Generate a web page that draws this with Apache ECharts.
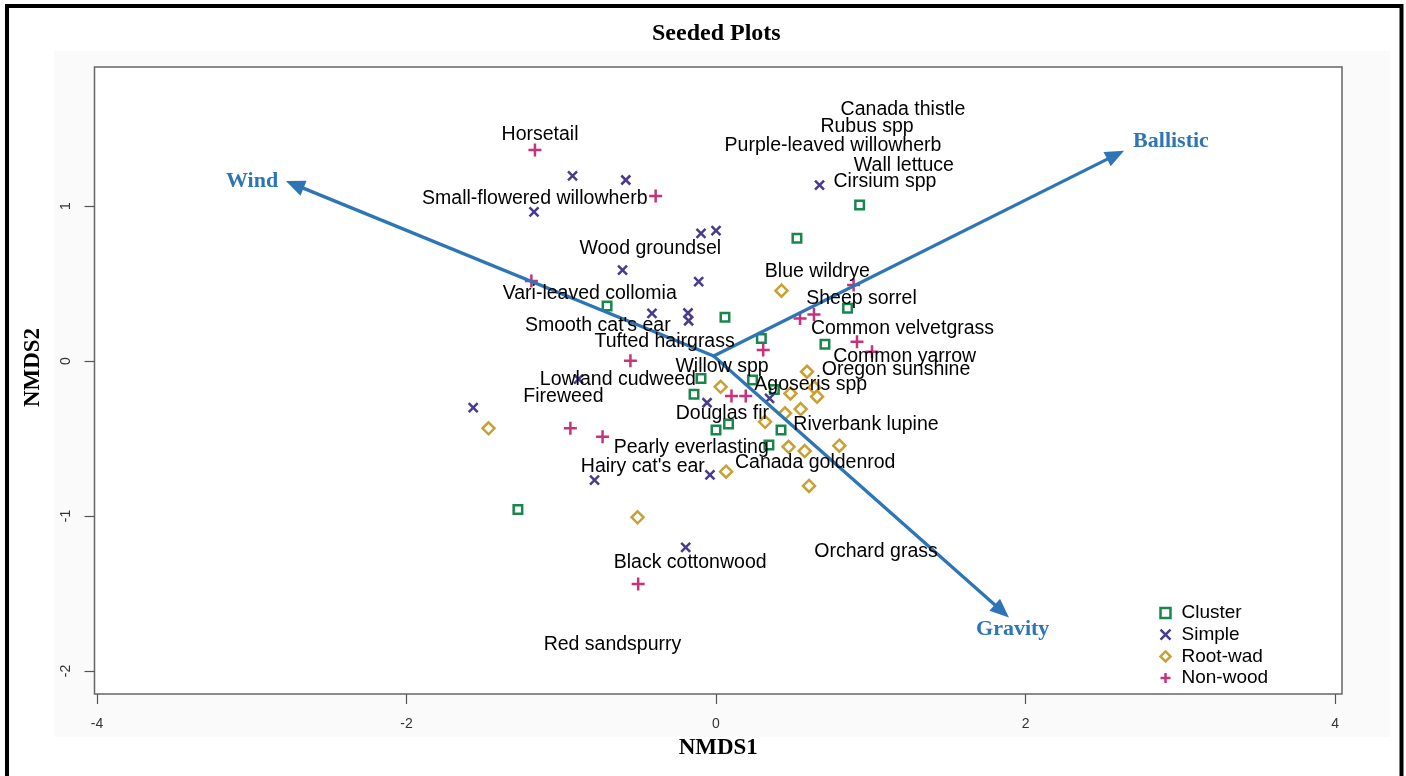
<!DOCTYPE html>
<html>
<head>
<meta charset="utf-8">
<title>Seeded Plots</title>
<script src="https://cdn.jsdelivr.net/npm/echarts@6/dist/echarts.min.js"></script>
<style>
  html, body { margin: 0; padding: 0; background: #fff; }
  #chart { width: 1406px; height: 776px; }
</style>
</head>
<body>
<div id="chart"></div>
<script>
// NMDS site scores by dispersal group
const clusterPts = [
  [0.928, 1.006], [0.523, 0.792], [-0.704, 0.355], [0.058, 0.282], [0.850, 0.340],
  [0.293, 0.146], [0.704, 0.108], [-0.097, -0.112], [-0.142, -0.215], [0.236, -0.123],
  [0.377, -0.183], [0.420, -0.445], [0.000, -0.445], [0.081, -0.406], [0.342, -0.542],
  [-1.280, -0.957]
];
const simplePts = [
  [-0.927, 1.194], [-0.583, 1.168], [-1.176, 0.963], [-0.097, 0.824], [0.000, 0.841],
  [0.669, 1.135], [-0.604, 0.587], [-0.112, 0.512], [-0.414, 0.308], [-0.181, 0.310],
  [-0.177, 0.260], [-0.888, -0.116], [-0.058, -0.269], [0.346, -0.241], [-1.569, -0.301],
  [-0.785, -0.768], [-0.039, -0.735], [-0.196, -1.202]
];
const rootwadPts = [
  [0.423, 0.454], [0.030, -0.166], [0.588, -0.069], [0.481, -0.209], [0.635, -0.170],
  [0.653, -0.230], [0.446, -0.337], [0.547, -0.310], [0.317, -0.392], [0.469, -0.553],
  [0.573, -0.581], [0.797, -0.546], [0.065, -0.714], [0.601, -0.806], [-1.470, -0.434],
  [-0.507, -1.008]
];
const nonwoodPts = [
  [-1.170, 1.361], [-0.390, 1.065], [-1.193, 0.516], [0.889, 0.490], [0.543, 0.275],
  [0.633, 0.301], [0.305, 0.071], [0.911, 0.125], [1.008, 0.060], [-0.553, 0.002],
  [0.100, -0.226], [0.192, -0.226], [-0.941, -0.434], [-0.733, -0.488], [-0.503, -1.439]
];

// Species scores
const speciesNames = [
  'Horsetail', 'Small-flowered willowherb', 'Wood groundsel', 'Vari-leaved collomia',
  "Smooth cat's ear", 'Canada thistle', 'Rubus spp', 'Purple-leaved willowherb',
  'Wall lettuce', 'Cirsium spp', 'Blue wildrye', 'Sheep sorrel', 'Common velvetgrass',
  'Common yarrow', 'Oregon sunshine', 'Tufted hairgrass', 'Willow spp', 'Lowland cudweed',
  'Agoseris spp', 'Fireweed', 'Douglas fir', 'Riverbank lupine', 'Pearly everlasting',
  'Canada goldenrod', "Hairy cat's ear", 'Orchard grass', 'Black cottonwood', 'Red sandspurry'
];
const speciesX = [
  -1.137, -1.171, -0.425, -0.816, -0.764, 1.208, 0.976, 0.756, 1.214, 1.092,
  0.655, 0.940, 1.205, 1.219, 1.163, -0.332, 0.039, -0.634, 0.612, -0.986,
  0.041, 0.969, -0.160, 0.641, -0.473, 1.034, -0.167, -0.669
];
const speciesY = [
  1.458, 1.045, 0.726, 0.435, 0.226, 1.619, 1.510, 1.390, 1.258, 1.158,
  0.577, 0.400, 0.206, 0.026, -0.058, 0.126, -0.039, -0.123, -0.152, -0.232,
  -0.339, -0.413, -0.561, -0.658, -0.684, -1.232, -1.303, -1.832
];

// Dispersal-mode vectors (start point, tips, label anchors)
const vectorNames = ['Wind', 'Ballistic', 'Gravity'];
const vectorOrigin = [-0.015, 0.032];
const vectorX = [-2.779, 2.637, 1.893];
const vectorY = [1.161, 1.357, -1.654];
const vectorLabelX = [-2.998, 2.940, 1.917];
const vectorLabelY = [1.161, 1.419, -1.732];

// Axis ticks
const xTicks = [-4, -2, 0, 2, 4];
const yTicks = [-2, -1, 0, 1];

const groupNames = ['Cluster', 'Simple', 'Root-wad', 'Non-wood'];
const groupColors = ['#17874b', '#4b3b8c', '#c9a031', '#c7337a'];

const SANS = "'Liberation Sans', Arial, Helvetica, sans-serif";
const SERIF = "'Liberation Serif', 'Times New Roman', Times, serif";
const ARROW_BLUE = '#2e75b6';

const symbolPaths = {
  square: 'path://M0,0L10,0L10,10L0,10Z',
  cross: 'path://M0,0L10,10M10,0L0,10',
  diamond: 'path://M5,0L10,5L5,10L0,5Z',
  plus: 'path://M5,0L5,10M0,5L10,5'
};

function groupSeries(name, pts, color, symbol, size) {
  return {
    type: 'scatter',
    name: name,
    data: pts,
    symbol: symbol,
    symbolSize: size,
    silent: true,
    itemStyle: { color: 'none', borderColor: color, borderWidth: 2.5, opacity: 1 },
    z: 3
  };
}

const speciesData = speciesNames.map((n, i) => [speciesX[i], speciesY[i], n]);
const vectorLabelData = vectorNames.map((n, i) => [vectorLabelX[i], vectorLabelY[i], n]);
const vectorData = vectorNames.map((n, i) => [vectorOrigin[0], vectorOrigin[1], vectorX[i], vectorY[i]]);

const chart = echarts.init(document.getElementById('chart'), null, { renderer: 'canvas' });

const option = {
  animation: false,
  backgroundColor: '#ffffff',
  title: {
    text: 'Seeded Plots',
    left: 647,
    top: 17,
    textStyle: { fontFamily: SERIF, fontWeight: 'bold', fontSize: 24, color: '#000' }
  },
  graphic: [
    {
      type: 'rect', z: -10, silent: true,
      shape: { x: 54, y: 51, width: 1336, height: 686 },
      style: { fill: '#fafafa' }
    },
    {
      type: 'rect', z: 100, silent: true,
      shape: { x: 7, y: 6, width: 1394.5, height: 820 },
      style: { fill: 'none', stroke: '#000', lineWidth: 4 }
    }
  ],
  legend: {
    orient: 'vertical',
    left: 1153,
    top: 598,
    itemWidth: 10,
    itemHeight: 10,
    itemGap: 1.7,
    selectedMode: false,
    data: groupNames.map((n, i) => ({
      name: n,
      itemStyle: { color: 'none', borderColor: groupColors[i], borderWidth: 2.5 }
    })),
    textStyle: { fontFamily: SANS, fontSize: 19, color: '#000', lineHeight: 20, padding: [0, 0, 0, 6] }
  },
  grid: {
    left: 94.5, top: 67, right: 1406 - 1342, bottom: 776 - 694,
    show: true, backgroundColor: '#ffffff', borderColor: '#666', borderWidth: 1.5
  },
  xAxis: {
    type: 'value',
    min: -4.016, max: 4.045,
    axisLine: { show: false, onZero: false },
    splitLine: { show: false },
    axisTick: { show: true, length: 10, customValues: xTicks, lineStyle: { color: '#555', width: 1.2 } },
    axisLabel: { customValues: xTicks, margin: 23, fontFamily: SANS, fontSize: 14, color: '#333' },
    name: 'NMDS1',
    nameLocation: 'middle',
    nameGap: 43,
    nameTextStyle: { fontFamily: SERIF, fontWeight: 'bold', fontSize: 23, color: '#000' }
  },
  yAxis: {
    type: 'value',
    min: -2.148, max: 1.897,
    axisLine: { show: false, onZero: false },
    splitLine: { show: false },
    axisTick: { show: true, length: 10, customValues: yTicks, lineStyle: { color: '#555', width: 1.2 } },
    axisLabel: { customValues: yTicks, rotate: 90, margin: 21, fontFamily: SANS, fontSize: 14, color: '#333' },
    name: 'NMDS2',
    nameLocation: 'middle',
    nameRotate: 90,
    nameGap: 50,
    nameTextStyle: { fontFamily: SERIF, fontWeight: 'bold', fontSize: 23, color: '#000', padding: [0, 0, 0, 26] }
  },
  series: [
    groupSeries('Cluster', clusterPts, groupColors[0], symbolPaths.square, 8.5),
    groupSeries('Simple', simplePts, groupColors[1], symbolPaths.cross, 9),
    groupSeries('Root-wad', rootwadPts, groupColors[2], symbolPaths.diamond, 12),
    groupSeries('Non-wood', nonwoodPts, groupColors[3], symbolPaths.plus, 13),
    {
      type: 'custom',
      name: 'vectors',
      silent: true,
      z: 4,
      data: vectorData,
      renderItem: function (params, api) {
        const p0 = api.coord([api.value(0), api.value(1)]);
        const p1 = api.coord([api.value(2), api.value(3)]);
        const dx = p1[0] - p0[0], dy = p1[1] - p0[1];
        const len = Math.sqrt(dx * dx + dy * dy);
        const ux = dx / len, uy = dy / len;
        const headLen = 19, headHalf = 8;
        const bx = p1[0] - ux * headLen, by = p1[1] - uy * headLen;
        return {
          type: 'group',
          children: [
            {
              type: 'line',
              shape: { x1: p0[0], y1: p0[1], x2: bx + ux * 3, y2: by + uy * 3 },
              style: { stroke: ARROW_BLUE, lineWidth: 3.3, lineCap: 'round' }
            },
            {
              type: 'polygon',
              shape: { points: [p1, [bx - uy * headHalf, by + ux * headHalf], [bx + uy * headHalf, by - ux * headHalf]] },
              style: { fill: ARROW_BLUE }
            }
          ]
        };
      }
    },
    {
      type: 'scatter',
      name: 'vector labels',
      silent: true,
      z: 5,
      data: vectorLabelData,
      symbolSize: 1,
      itemStyle: { color: 'rgba(0,0,0,0)', opacity: 1 },
      label: {
        show: true, position: 'inside',
        formatter: p => p.data[2],
        fontFamily: SERIF, fontWeight: 'bold', fontSize: 22, color: ARROW_BLUE
      }
    },
    {
      type: 'scatter',
      name: 'species',
      silent: true,
      z: 5,
      data: speciesData,
      symbolSize: 1,
      itemStyle: { color: 'rgba(0,0,0,0)', opacity: 1 },
      label: {
        show: true, position: 'inside',
        formatter: p => p.data[2],
        fontFamily: SANS, fontSize: 19.5, color: '#000'
      }
    }
  ]
};

chart.setOption(option);
</script>
</body>
</html>
